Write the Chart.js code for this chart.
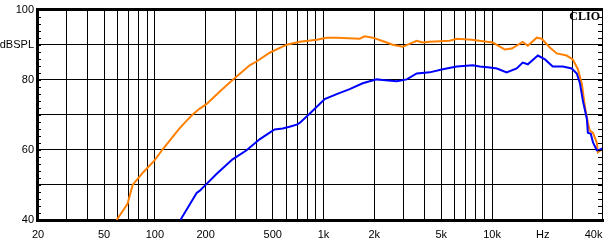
<!DOCTYPE html>
<html><head><meta charset="utf-8">
<script src="https://cdn.jsdelivr.net/npm/chart.js@4.4.1/dist/chart.umd.min.js"></script>
<style>html,body{margin:0;padding:0;background:#fff}</style>
</head><body>
<canvas id="c" width="610" height="244"></canvas>
<script>
// ---- data ----
const orangeFreq = [59.3, 68.9, 73.8, 85.7, 99.6, 111, 140, 150, 167, 184, 203, 242, 289, 365, 401, 480, 605, 723, 912, 1045, 1198, 1640, 1756, 1960, 2216, 2372, 2576, 2952, 3162, 3574, 3882, 4268, 5610, 6180, 7578, 9306, 10100, 11900, 13100, 15200, 16300, 18400, 19700, 22000, 24200, 27700, 30100, 32300, 34100, 35500, 37000, 38000, 39600, 41800, 42400, 44800];
const orangeDb   = [40.0, 44.6, 50.0, 53.7, 57.0, 60.1, 66.1, 67.7, 70.0, 71.7, 73.1, 76.6, 79.9, 84.1, 85.2, 87.7, 90.0, 90.8, 91.4, 92.0, 92.0, 91.7, 92.4, 92.0, 91.1, 90.6, 90.0, 89.4, 90.0, 91.1, 90.6, 90.8, 91.1, 91.7, 91.4, 90.8, 90.6, 88.6, 88.9, 90.8, 89.7, 92.0, 91.7, 89.2, 87.5, 86.9, 85.8, 83.0, 78.7, 72.5, 67.7, 65.5, 64.9, 62.1, 59.3, 60.1];
const blueFreq   = [142, 161, 177, 184, 203, 232, 289, 350, 418, 480, 513, 573, 630, 694, 723, 828, 1017, 1198, 1431, 1709, 2070, 2246, 2720, 3118, 3574, 4268, 5100, 6180, 7682, 8454, 9694, 10700, 12200, 14000, 15200, 16300, 18700, 20600, 22900, 26300, 29700, 31800, 33200, 34600, 36500, 37000, 38500, 39700, 41800, 43100, 44900];
const blueDb     = [40.1, 44.4, 47.7, 48.3, 50.3, 53.1, 57.3, 59.9, 63.0, 64.9, 65.8, 66.1, 66.6, 67.2, 67.7, 70.3, 74.5, 75.9, 77.3, 79.0, 80.1, 79.9, 79.6, 80.1, 81.8, 82.1, 83.0, 83.8, 84.1, 83.8, 83.5, 83.2, 82.1, 83.2, 84.9, 84.4, 86.9, 85.8, 83.8, 83.8, 83.2, 81.8, 79.0, 73.9, 68.9, 64.9, 64.6, 62.1, 59.9, 59.9, 60.4];

const xGridValues  = [20,30,40,50,60,70,80,90,100,200,300,400,500,600,700,800,900,1000,2000,3000,4000,5000,6000,7000,8000,9000,10000,20000,30000];
const xLabelValues = [20, 50, 100, 200, 500, 1000, 2000, 5000, 10000, 20000, 40000];
const xLabelTexts  = ['20','50','100','200','500','1k','2k','5k','10k','Hz','40k'];
const yGridValues  = [40, 50, 60, 70, 80, 90, 100];
const yTickLabels  = ['40', '', '60', '', '80', 'dBSPL', '100'];
const yMinorValues = [40,42,44,46,48,50,52,54,56,58,60,62,64,66,68,70,72,74,76,78,80,82,84,86,88,90,92,94,96,98,100];
const brandText = 'CLIO';
const xMin = 20, xMax = 45500, yMin = 40, yMax = 100;

const toPts = (f, v) => f.map((fr, i) => ({x: fr, y: v[i]}));

const framePlugin = {
  id: 'frame',
  afterDraw(chart) {
    const {ctx, chartArea: a, scales: {x, y}} = chart;
    ctx.save();
    ctx.strokeStyle = '#000';
    ctx.lineWidth = 1;
    ctx.beginPath();
    ctx.moveTo(a.right - 0.5, a.top);
    ctx.lineTo(a.right - 0.5, a.bottom);
    yMinorValues.forEach(v => {
      const py = Math.round(y.getPixelForValue(v)) + 0.5;
      ctx.moveTo(a.left, py); ctx.lineTo(a.left + 4, py);
      ctx.moveTo(a.right - 5, py); ctx.lineTo(a.right, py);
    });
    ctx.stroke();
    ctx.fillStyle = '#000';
    ctx.font = '11px "Liberation Sans", Arial, sans-serif';
    ctx.textAlign = 'center';
    ctx.textBaseline = 'middle';
    xLabelValues.forEach((v, i) => {
      let px = x.getPixelForValue(v);
      const w = ctx.measureText(xLabelTexts[i]).width;
      px = Math.max(px, a.left - 5 + w / 2);
      ctx.fillText(xLabelTexts[i], px, a.bottom + 15);
    });
    ctx.font = 'bold 12px "Liberation Serif", "Times New Roman", serif';
    ctx.textAlign = 'right';
    ctx.fillText(brandText, a.right - 3, a.top + 7);
    ctx.restore();
  }
};

new Chart(document.getElementById('c'), {
  type: 'line',
  data: {
    datasets: [
      {data: toPts(blueFreq, blueDb), borderColor: '#0000ff', borderWidth: 2, pointRadius: 0, tension: 0, fill: false},
      {data: toPts(orangeFreq, orangeDb), borderColor: '#ff8000', borderWidth: 2, pointRadius: 0, tension: 0, fill: false}
    ]
  },
  options: {
    responsive: false,
    animation: false,
    devicePixelRatio: 1,
    layout: {autoPadding: false, padding: {top: 7, right: 7, left: 0, bottom: 0}},
    plugins: {legend: {display: false}, tooltip: {enabled: false}},
    scales: {
      x: {
        type: 'logarithmic', min: xMin, max: xMax,
        afterBuildTicks(s) { s.ticks = xGridValues.map(v => ({value: v})); },
        afterFit(s) { s.height = 24; },
        ticks: {display: false},
        grid: {color: '#000', lineWidth: 1, drawTicks: false},
        border: {display: true, color: '#000', width: 3}
      },
      y: {
        type: 'linear', min: yMin, max: yMax,
        afterBuildTicks(s) { s.ticks = yGridValues.map(v => ({value: v})); },
        afterFit(s) { s.width = 37; },
        ticks: {
          padding: 3, color: '#000', autoSkip: false,
          font: {family: '"Liberation Sans", Arial, sans-serif', size: 11},
          callback: (v) => yTickLabels[yGridValues.indexOf(v)]
        },
        grid: {color: '#000', lineWidth: (c) => (c.tick && c.tick.value === yMax ? 3 : 1), drawTicks: false},
        border: {display: true, color: '#000', width: 3}
      }
    }
  },
  plugins: [framePlugin]
});
</script>
</body></html>
